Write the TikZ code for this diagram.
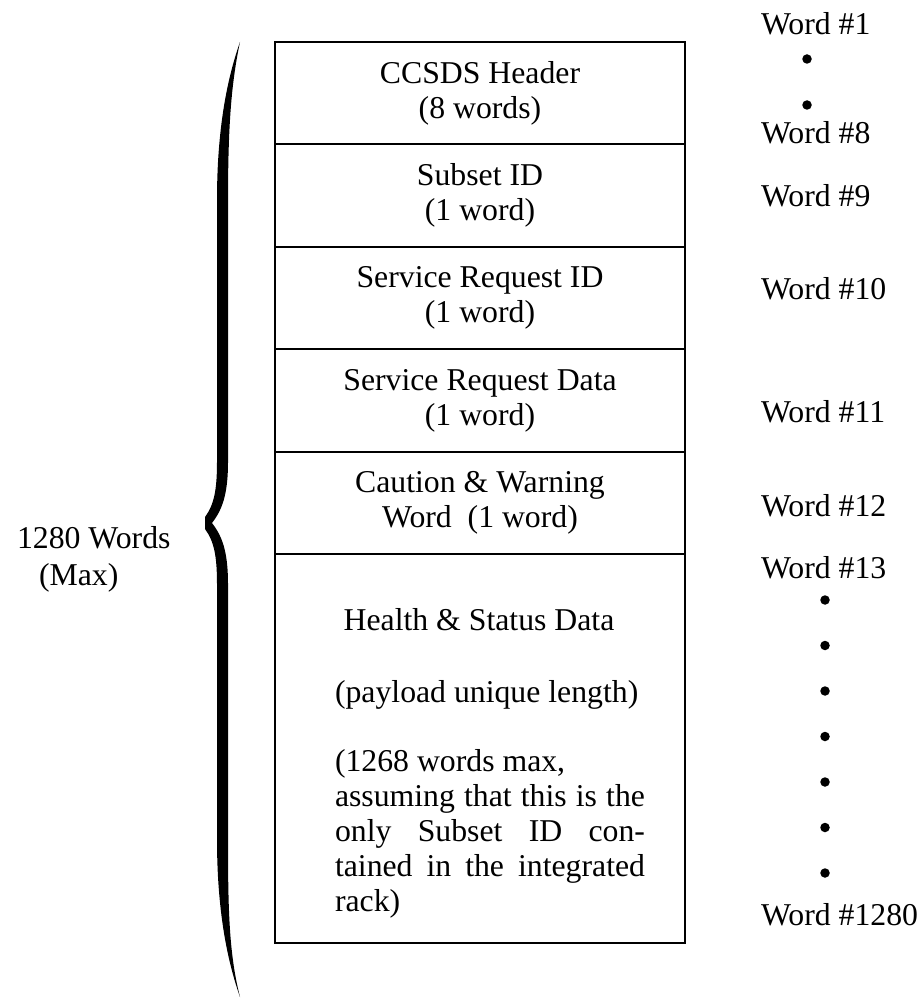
\documentclass[tikz,border=0pt]{standalone}
\usepackage{fontspec}
\setmainfont{Liberation Serif}
\usetikzlibrary{positioning}

\begin{document}
\begin{tikzpicture}[
    x=0.4pt, y=-0.4pt,
    every node/.style={font=\fontsize{12.7}{14}\selectfont, inner sep=0pt, outer sep=0pt},
    field/.style={draw, line width=0.8pt, align=center, minimum width=164pt, minimum height=40.96pt},
    datafield/.style={field, minimum height=155.6pt},
    wordlbl/.style={anchor=base west},
    dot/.style={circle, fill, minimum size=3.8pt}
]
\useasboundingbox (0,0) rectangle (922,998);
% packet fields
\node[field] (hdr) at (480,93.2) {CCSDS Header\\(8 words)};
\node[field, below=0pt of hdr] (sid) {Subset ID\\(1 word)};
\node[field, below=0pt of sid] (srid) {Service Request ID\\(1 word)};
\node[field, below=0pt of srid] (srdata) {Service Request Data\\(1 word)};
\node[field, below=0pt of srdata] (cw) {Caution \& Warning\\Word\ \ (1 word)};
\node[datafield, below=0pt of cw] (hs) {};
\node[anchor=base] (hsname) at (479,630) {Health \& Status Data};
\node[anchor=base west] (hslen) at (335,702) {(payload unique length)};
\node[anchor=north west, text width=124pt, align=justify] (hsnote) at (335,749)
    {(1268 words max,\newline assuming that this is the\linebreak only Subset ID con-\linebreak tained in the integrated\linebreak rack)};
% word numbers
\node[wordlbl] (w1) at (761,35) {Word \#1};
\node[dot] (w1a) at (807,59) {};
\node[dot] (w1b) at (807,105) {};
\node[wordlbl] (w8) at (761,144) {Word \#8};
\node[wordlbl] (w9) at (761,207) {Word \#9};
\node[wordlbl] (w10) at (761,300) {Word \#10};
\node[wordlbl] (w11) at (761,423) {Word \#11};
\node[wordlbl] (w12) at (761,516) {Word \#12};
\node[wordlbl] (w13) at (761,578) {Word \#13};
\foreach \i in {0,...,6}
    \node[dot] (g\i) at (825,{600+45.5*\i}) {};
\node[wordlbl] (w1280) at (761,925) {Word \#1280};
% brace and total
\fill (240,42) .. controls (232,80) and (228,120) .. (228,200) -- (228,462)
    .. controls (228,495) and (222,510) .. (212,523)
    .. controls (222,536) and (228,551) .. (228,584) -- (228,839)
    .. controls (228,909) and (229,954) .. (240,997)
    .. controls (227,960) and (217,910) .. (217,839) -- (217,584)
    .. controls (217,556) and (214,541) .. (205,529) -- (205,517)
    .. controls (214,505) and (217,490) .. (217,462) -- (217,200)
    .. controls (217,129) and (227,79) .. cycle;
\node[anchor=base west] (total) at (17,548) {1280 Words};
\node[anchor=base west] (totalmax) at (39,585) {(Max)};
\end{tikzpicture}
\end{document}
